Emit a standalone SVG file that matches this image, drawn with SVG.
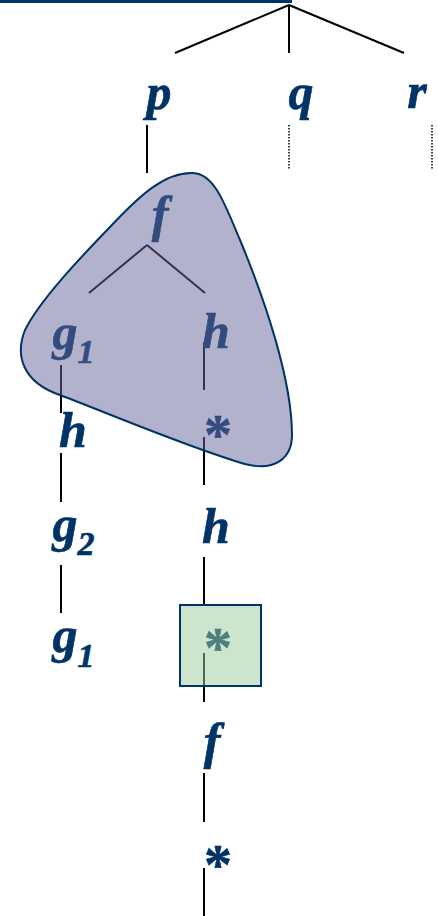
<svg xmlns="http://www.w3.org/2000/svg" width="438" height="916" viewBox="0 0 438 916">
<style>
.t{font-family:"Liberation Serif","Times New Roman",serif;font-weight:bold;font-style:italic;font-size:50px;fill:#003366;stroke:#003366;stroke-width:0.6;text-anchor:middle}
.s{font-size:34px}
.st{font-style:normal;font-size:56px}
.c line{stroke:#000;stroke-width:2}
.c line.d{stroke-width:1.5;stroke-dasharray:1.5 1.5}
</style>
<rect x="0" y="0" width="292" height="3" fill="#003366"/>
<g class="c" id="connectors">
<line x1="289" y1="5" x2="175" y2="53"/>
<line x1="289" y1="5" x2="289" y2="53"/>
<line x1="289" y1="5" x2="404" y2="53"/>
<line x1="147" y1="125" x2="147" y2="173"/>
<line class="d" x1="289" y1="125" x2="289" y2="170"/>
<line class="d" x1="432" y1="125" x2="432" y2="170"/>
<line x1="147" y1="245" x2="89" y2="293"/>
<line x1="147" y1="245" x2="205" y2="293"/>
<line x1="61" y1="365" x2="61" y2="413"/>
<line x1="204" y1="342" x2="204" y2="390"/>
<line x1="204" y1="437" x2="204" y2="485"/>
<line x1="61" y1="453" x2="61" y2="502"/>
<line x1="61" y1="565" x2="61" y2="613"/>
<line x1="204" y1="557" x2="204" y2="605"/>
<line x1="204" y1="653" x2="204" y2="702"/>
<line x1="204" y1="773" x2="204" y2="822"/>
<line x1="204" y1="868" x2="204" y2="916"/>
</g>
<g id="p"><text class="t" x="159" y="109">p</text></g>
<g id="q"><text class="t" x="301" y="109">q</text></g>
<g id="r"><text class="t" x="417" y="108">r</text></g>
<g id="f1"><text class="t" x="160" y="231">f</text></g>
<g id="g1a"><text class="t" x="65" y="349">g</text><text class="t s" x="86" y="363">1</text></g>
<g id="h1"><text class="t" x="216" y="348">h</text></g>
<g id="star1"><text class="t st" x="218" y="454">*</text></g>
<g id="h2"><text class="t" x="73" y="447">h</text></g>
<g id="h3"><text class="t" x="216" y="543">h</text></g>
<g id="g2"><text class="t" x="65" y="541">g</text><text class="t s" x="86" y="555">2</text></g>
<g id="g1b"><text class="t" x="65" y="652">g</text><text class="t s" x="86" y="667">1</text></g>
<g id="star2"><text class="t st" x="218" y="667">*</text></g>
<g id="f2"><text class="t" x="212" y="758">f</text></g>
<g id="star3"><text class="t st" x="218" y="884">*</text></g>
<g id="blob"><path d="M193,173 C165,172 140,195 110,227 C80,258 40,300 25,330 C15,355 22,382 60,395 C120,418 190,448 245,464 C275,472 292,458 292,435 C292,380 265,300 240,240 C225,205 215,174 193,173 Z" fill="#666699" fill-opacity="0.5" stroke="#003366" stroke-width="2"/></g>
<g id="box"><rect x="180" y="605" width="81" height="81" fill="#99cc99" fill-opacity="0.5" stroke="#003366" stroke-width="2"/></g>
</svg>
